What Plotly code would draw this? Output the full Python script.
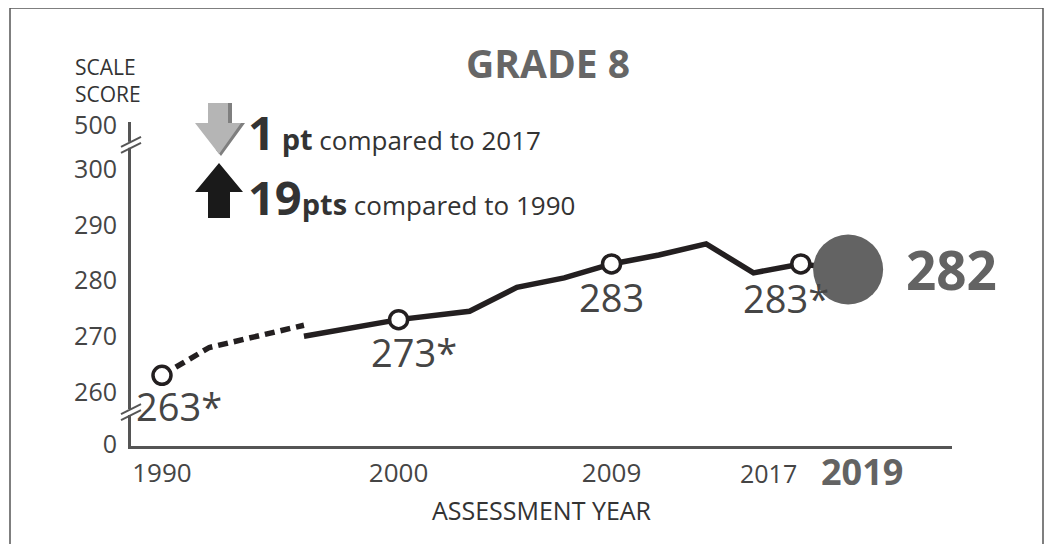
import plotly.graph_objects as go

# NAEP mathematics, grade 8 - average scale scores
years_early = [1990, 1992, 1996]          # accommodations not permitted
scores_early = [263, 268, 272]
years_main = [1996, 2000, 2003, 2005, 2007, 2009, 2011, 2013, 2015, 2017, 2019]
scores_main = [270, 273, 274.5, 278.8, 280.5, 283, 284.6, 286.6, 281.4, 283, 282]

label_years = [1990, 2000, 2009, 2017]
label_scores = [263, 273, 283, 283]
label_text = ["263*", "273*", "283", "283*"]

current_year = 2019
current_score = 282

ytick_vals = [250.7, 260, 270, 280, 290, 300, 307.9]
ytick_text = ["0", "260", "270", "280", "290", "300", "500"]
xtick_vals = [1990, 2000, 2009]

INK = "#231f20"
GREY = "#636363"
TXT = "#454545"
FONT = "Open Sans"

# the page body adds an 8px offset, so the figure is drawn 8px smaller
OFF = 8
W, H = 1052 - OFF, 544 - OFF
# plot area in page pixels: left 131, right 952, top 122, bottom 446
L, R, T, B = 131, 952, 122, 446


def px(x):
    return (x - L) / (R - L)


def py(y):
    return (B - y) / (B - T)


fig = go.Figure()

fig.add_trace(go.Scatter(
    x=years_early, y=scores_early, mode="lines",
    line=dict(color=INK, width=5.5, dash="10px,6px"),
    hoverinfo="skip", showlegend=False
))
fig.add_trace(go.Scatter(
    x=years_main, y=scores_main, mode="lines",
    line=dict(color=INK, width=5.5),
    hoverinfo="skip", showlegend=False
))
fig.add_trace(go.Scatter(
    x=label_years, y=label_scores, mode="markers",
    marker=dict(size=18, color="white", line=dict(color=INK, width=3.5)),
    showlegend=False
))
fig.add_trace(go.Scatter(
    x=[current_year], y=[current_score], mode="markers",
    marker=dict(size=70, color=GREY),
    cliponaxis=False, showlegend=False
))

annotations = []
shifts = [(17, -31), (15, -32), (0, -33), (-15, -34)]
for yr, sc, tx, (dx, dy) in zip(label_years, label_scores, label_text, shifts):
    annotations.append(dict(
        x=yr, y=sc, text=tx, showarrow=False, xshift=dx, yshift=dy,
        yanchor="middle",
        font=dict(family=FONT, size=38, color=TXT)
    ))

annotations.append(dict(
    x=current_year, y=current_score, text="<b>%d</b>" % current_score,
    showarrow=False, xanchor="left", yanchor="middle", xshift=56,
    font=dict(family=FONT, size=53, color=GREY)
))

# year labels not on the regular ticks
annotations.append(dict(
    x=2017, y=0, yref="paper", text="2017", showarrow=False, yanchor="middle",
    xshift=-32, yshift=-27, font=dict(family=FONT, size=25, color=TXT)
))
annotations.append(dict(
    x=current_year, y=0, yref="paper", text="<b>2019</b>", showarrow=False,
    yanchor="middle", xshift=14, yshift=-25,
    font=dict(family=FONT, size=36, color=GREY)
))

annotations += [
    dict(x=px(548), y=py(62), xref="paper", yref="paper", text="<b>GRADE 8</b>",
         showarrow=False, yanchor="middle",
         font=dict(family=FONT, size=39, color="#666666")),
    dict(x=px(73), y=py(80), xref="paper", yref="paper", text="SCALE<br>SCORE",
         showarrow=False, xanchor="left", yanchor="middle", align="left",
         font=dict(family=FONT, size=21, color="#333333")),
    dict(x=px(246), y=py(132), xref="paper", yref="paper", xanchor="left",
         yanchor="middle",
         text="<span style='font-size:47px'><b>1</b></span> <b><span style='font-size:29px'>pt</span></b> compared to 2017",
         showarrow=False, font=dict(family=FONT, size=26, color="#333333")),
    dict(x=px(246), y=py(197), xref="paper", yref="paper", xanchor="left",
         yanchor="middle",
         text="<span style='font-size:47px'><b>19</b></span><b><span style='font-size:29px'>pts</span></b> compared to 1990",
         showarrow=False, font=dict(family=FONT, size=26, color="#333333")),
]

shapes = []
# axis break marks
for yb in [256.4, 304.4]:
    common = dict(xref="paper", yref="y", xsizemode="pixel", ysizemode="pixel",
                  xanchor=0, yanchor=yb, layer="above")
    shapes.append(dict(type="rect", x0=-4, x1=4, y0=-3, y1=3,
                       fillcolor="white", line=dict(width=0), **common))
    shapes.append(dict(type="line", x0=-10, x1=10, y0=-2, y1=8,
                       line=dict(color="#555555", width=2), **common))
    shapes.append(dict(type="line", x0=-10, x1=10, y0=-8, y1=2,
                       line=dict(color="#555555", width=2), **common))

# change arrows
pix = dict(xref="paper", yref="paper", xsizemode="pixel", ysizemode="pixel",
           xanchor=0, yanchor=0, layer="above")
shapes.append(dict(type="path",
                   path="M 80 343 L 101 343 L 101 323 L 114 323 L 90 290 L 85 296 Z",
                   fillcolor="#7f7f7f", line=dict(width=0), **pix))
shapes.append(dict(type="path",
                   path="M 77 343 L 97 343 L 97 323 L 110 323 L 88 292 L 64 323 L 77 323 Z",
                   fillcolor="#b5b5b5", line=dict(width=0), **pix))
shapes.append(dict(type="path",
                   path="M 88 283 L 112 254 L 99 254 L 99 228 L 77 228 L 77 254 L 64 254 Z",
                   fillcolor="#1a1a1a", line=dict(width=0), **pix))
# frame around the graphic
shapes.append(dict(type="rect", xref="paper", yref="paper",
                   x0=px(10), x1=px(1043), y0=py(560), y1=py(8),
                   line=dict(color="#555555", width=1.5), layer="below"))

fig.update_layout(
    width=W, height=H,
    margin=dict(l=L - OFF, r=W - (R - OFF), t=T - OFF, b=H - (B - OFF)),
    paper_bgcolor="white", plot_bgcolor="white",
    font=dict(family=FONT, color=TXT),
    annotations=annotations, shapes=shapes,
    xaxis=dict(
        range=[1988.69, 2023.39], showgrid=False, zeroline=False,
        automargin=False,
        showline=True, linecolor="#555555", linewidth=3,
        tickvals=xtick_vals, ticks="", ticklabelstandoff=2,
        tickfont=dict(family=FONT, size=26, color=TXT),
        title=dict(text="ASSESSMENT YEAR", standoff=14,
                   font=dict(family=FONT, size=25, color="#333333")),
    ),
    yaxis=dict(
        range=[250.3, 308.5], showgrid=False, zeroline=False,
        automargin=False,
        showline=True, linecolor="#555555", linewidth=3,
        tickvals=ytick_vals, ticktext=ytick_text, ticks="",
        ticklabelstandoff=6,
        tickfont=dict(family=FONT, size=25, color=TXT),
    ),
)

fig.write_html("out.html")
